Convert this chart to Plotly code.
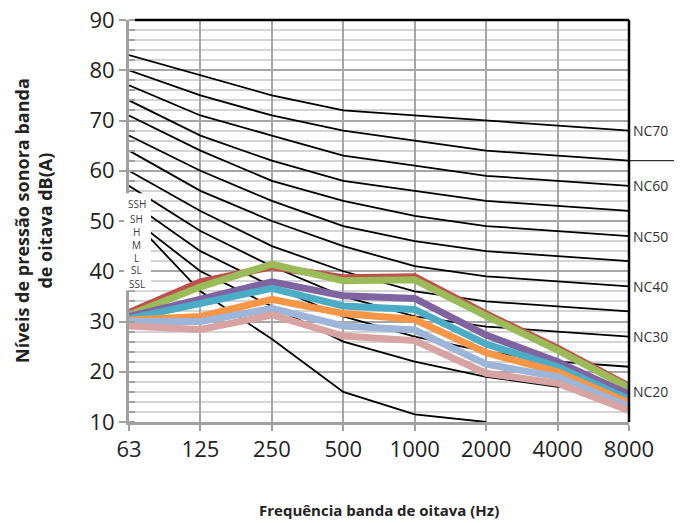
import plotly.graph_objects as go

freqs = ["63", "125", "250", "500", "1000", "2000", "4000", "8000"]

# NC curves (black)
nc_names = ["NC15", "NC20", "NC25", "NC30", "NC35", "NC40", "NC45", "NC50", "NC55", "NC60", "NC65", "NC70"]
nc15 = [51, 36, 26.5, 16, 11.5, 10, None, None]
nc20 = [51, 40, 33, 26, 22, 19, 17, 16]
nc25 = [54, 44, 37, 31, 27, 24, 22, 21]
nc30 = [57, 48, 41, 35, 31, 29, 28, 27]
nc35 = [60, 52, 45, 40, 36, 34, 33, 32]
nc40 = [64, 56, 50, 45, 41, 39, 38, 37]
nc45 = [67, 60, 54, 49, 46, 44, 43, 42]
nc50 = [71, 64, 58, 54, 51, 49, 48, 47]
nc55 = [74, 67, 62, 58, 56, 54, 53, 52]
nc60 = [77, 71, 67, 63, 61, 59, 58, 57]
nc65 = [80, 75, 71, 68, 66, 64, 63, 62]
nc70 = [83, 79, 75, 72, 71, 70, 69, 68]
nc_curves = [nc15, nc20, nc25, nc30, nc35, nc40, nc45, nc50, nc55, nc60, nc65, nc70]
nc_labelled = ["NC20", "NC30", "NC40", "NC50", "NC60", "NC70"]

# measured series
series_names = ["SSH", "SH", "H", "M", "L", "SL", "SSL"]
s_red = [31.8, 37.9, 40.9, 38.7, 38.9, 31.5, 24.7, 17.1]
s_green = [31.3, 36.9, 41.4, 38.1, 38.3, 31.1, 24.3, 16.8]
s_purple = [31.0, 34.6, 37.9, 35.1, 34.6, 27.3, 22.0, 15.5]
s_cyan = [30.6, 33.6, 36.6, 33.1, 32.4, 25.5, 21.0, 14.5]
s_orange = [30.3, 31.0, 34.4, 31.6, 30.4, 23.8, 20.0, 13.8]
s_lblue = [30.0, 30.0, 32.6, 29.1, 28.3, 21.5, 19.0, 13.1]
s_pink = [29.1, 28.4, 31.3, 27.1, 26.2, 19.7, 17.7, 12.3]
series = [s_red, s_green, s_purple, s_cyan, s_orange, s_lblue, s_pink]
colors = ["#C0504D", "#9BBB59", "#8064A2", "#4BACC6", "#F79646", "#9DB5D8", "#D8A3A3"]

fig = go.Figure()
for name, vals in zip(nc_names, nc_curves):
    fig.add_trace(go.Scatter(x=freqs, y=vals, mode="lines", name=name,
                             line=dict(color="black", width=1.8), showlegend=False))
for name, vals, c in zip(series_names, series, colors):
    fig.add_trace(go.Scatter(x=freqs, y=vals, mode="lines", name=name,
                             line=dict(color=c, width=7), showlegend=False))

annotations = []
for name, vals in zip(nc_names, nc_curves):
    if name in nc_labelled:
        annotations.append(dict(x=1, xref="paper", y=vals[-1], yref="y", text=name,
                                showarrow=False, xanchor="left", yanchor="middle", xshift=2,
                                font=dict(size=14, color="#333333", family="Open Sans")))
label_y = [53.4, 50.4, 47.8, 45.2, 42.6, 40.2, 37.5]
for name, yv in zip(series_names, label_y):
    annotations.append(dict(x=0.015, xref="paper", y=yv, yref="y", text=name,
                            showarrow=False, xanchor="center", yanchor="middle",
                            font=dict(size=10, color="#404040", family="Open Sans")))
annotations.append(dict(x=-0.192, xref="paper", y=0.5, yref="paper",
                        text="<b>Níveis de pressão sonora banda<br>de oitava dB(A)</b>",
                        textangle=-90, showarrow=False, xanchor="center", yanchor="middle",
                        font=dict(size=18, color="#222222", family="Open Sans")))
annotations.append(dict(x=0.5, xref="paper", y=-0.219, yref="paper",
                        text="<b>Frequência banda de oitava (Hz)</b>",
                        showarrow=False, xanchor="center", yanchor="middle",
                        font=dict(size=15, color="#222222", family="Open Sans")))

shapes = [
    # label box
    dict(type="rect", xref="paper", yref="y", x0=-0.01, x1=0.044, y0=36.2, y1=55.5,
         fillcolor="white", line=dict(width=0), layer="above"),
    # top border
    dict(type="line", xref="paper", yref="paper", x0=0.012, x1=1, y0=1, y1=1,
         line=dict(color="black", width=2.5)),
    # right border
    dict(type="line", xref="paper", yref="paper", x0=1, x1=1, y0=0, y1=1,
         line=dict(color="black", width=2.5)),
    # stray extension line
    dict(type="line", xref="paper", yref="y", x0=1, x1=1.106, y0=62, y1=62,
         line=dict(color="black", width=1)),
]

fig.update_layout(
    width=674, height=515,
    margin=dict(l=121, r=53, t=12, b=101, autoexpand=False),
    paper_bgcolor="white", plot_bgcolor="white",
    font=dict(family="Open Sans", color="#222222"),
    annotations=annotations, shapes=shapes,
    xaxis=dict(type="category", range=[0, 7], showgrid=True, gridcolor="#A6A6A6", gridwidth=2,
               showline=True, linecolor="#A0A0A0", linewidth=3, ticks="outside", ticklen=6,
               tickcolor="#A0A0A0", tickwidth=2, tickfont=dict(size=22, color="#222222"),
               zeroline=False, fixedrange=True, automargin=False, ticklabeloverflow="allow"),
    yaxis=dict(range=[10, 90], dtick=10, showgrid=True, gridcolor="#A6A6A6", gridwidth=2,
               showline=True, linecolor="#A0A0A0", linewidth=3, ticks="outside", ticklen=7,
               tickcolor="#A0A0A0", tickwidth=2, tickfont=dict(size=22, color="#222222"),
               zeroline=False, automargin=False, ticklabeloverflow="allow",
               minor=dict(dtick=2, showgrid=True, gridcolor="#D4D4D4", gridwidth=2,
                          ticks="inside", ticklen=6, tickcolor="#A0A0A0", tickwidth=2)),
)

fig.write_html("out.html")
